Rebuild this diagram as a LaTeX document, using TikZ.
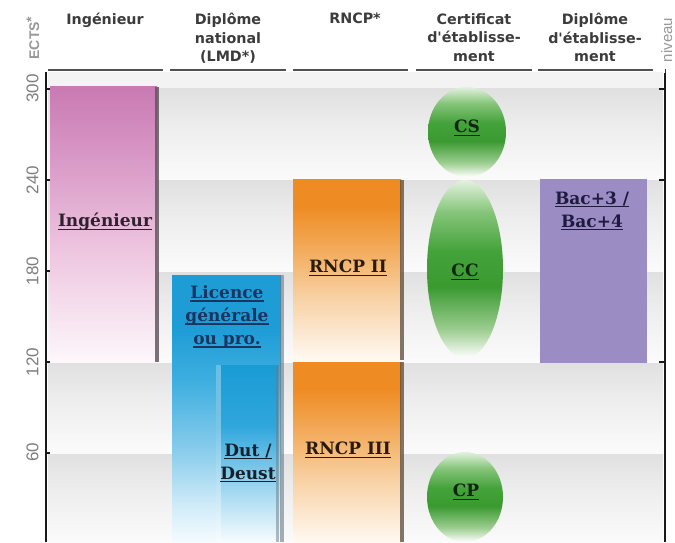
\documentclass[tikz,border=0pt]{standalone}
\usepackage{fontspec}
\setmainfont{DejaVu Serif}
\newfontfamily\hdfont{DejaVu Sans}
\newfontfamily\axfont{Liberation Sans}
\definecolor{hdgray}{HTML}{3C3C3C}
\definecolor{numgray}{HTML}{7E7E7E}
\definecolor{hdline}{HTML}{505050}
\definecolor{topband}{HTML}{F3F3F3}
\definecolor{bandhi}{HTML}{E0E0E0}
\definecolor{bandmid}{HTML}{EDEDED}
\definecolor{bandlo}{HTML}{FBFBFB}
\definecolor{pk0}{HTML}{FDF7FB}
\definecolor{pk1}{HTML}{EEC6E0}
\definecolor{pk2}{HTML}{D899C6}
\definecolor{pk3}{HTML}{C97AB3}
\definecolor{bl0}{HTML}{F5FBFE}
\definecolor{bl1}{HTML}{CFEBF8}
\definecolor{bl2}{HTML}{8ACDEC}
\definecolor{bl3}{HTML}{3FAFE0}
\definecolor{bl4}{HTML}{1E9CD6}
\definecolor{du0}{HTML}{F7FCFE}
\definecolor{du1}{HTML}{A0D7F0}
\definecolor{du2}{HTML}{2FA6DC}
\definecolor{du3}{HTML}{1A9BD5}
\definecolor{or0}{HTML}{FFF9F2}
\definecolor{or1}{HTML}{F8D2A6}
\definecolor{or2}{HTML}{F2A550}
\definecolor{or3}{HTML}{EE8B22}
\definecolor{gr0}{HTML}{FFFFFF}
\definecolor{gr1}{HTML}{9CCD90}
\definecolor{gr2}{HTML}{3A9A30}
\definecolor{gr3}{HTML}{44A23A}
\definecolor{gr4}{HTML}{86C57A}
\definecolor{gr5}{HTML}{E3F2DE}
\definecolor{purp}{HTML}{9B8CC4}
\definecolor{ingtxt}{HTML}{2E2230}
\definecolor{lictxt}{HTML}{1B3560}
\definecolor{duttxt}{HTML}{15202A}
\definecolor{rncptxt}{HTML}{2A1A0A}
\definecolor{greentxt}{HTML}{0E260E}
\definecolor{bactxt}{HTML}{1E1A40}
\definecolor{shadowpk}{HTML}{5A5058}
\definecolor{shadowbl}{HTML}{6A7A84}
\definecolor{shadowor}{HTML}{5A4A3A}
\pgfdeclareverticalshading{bandsh}{100bp}{color(0bp)=(bandlo); color(25bp)=(bandlo); color(55bp)=(bandmid); color(75bp)=(bandhi); color(100bp)=(bandhi)}
\pgfdeclareverticalshading{pinksh}{100bp}{color(0bp)=(pk0); color(25bp)=(pk0); color(45bp)=(pk1); color(62bp)=(pk2); color(75bp)=(pk3); color(100bp)=(pk3)}
\pgfdeclareverticalshading{licsh}{100bp}{color(0bp)=(bl0); color(25bp)=(bl0); color(32bp)=(bl1); color(42bp)=(bl2); color(55bp)=(bl3); color(65bp)=(bl4); color(100bp)=(bl4)}
\pgfdeclareverticalshading{dutsh}{100bp}{color(0bp)=(du0); color(25bp)=(du0); color(40bp)=(du1); color(58bp)=(du2); color(75bp)=(du3); color(100bp)=(du3)}
\pgfdeclareverticalshading{orsh}{100bp}{color(0bp)=(or0); color(25bp)=(or0); color(42bp)=(or1); color(58bp)=(or2); color(68bp)=(or3); color(100bp)=(or3)}
\pgfdeclareverticalshading{grsh}{100bp}{color(0bp)=(gr0); color(25bp)=(gr0); color(33bp)=(gr1); color(45bp)=(gr2); color(55bp)=(gr3); color(66bp)=(gr4); color(75bp)=(gr5); color(100bp)=(gr5)}
\newcommand\myul[1]{\setbox0\hbox{#1}\rlap{\rule[-3pt]{\wd0}{1.3pt}}\box0}
\begin{document}
\begin{tikzpicture}[x=1pt,y=1pt,
  hd/.style={font=\hdfont\bfseries\fontsize{14.3}{18.5}\selectfont, text=hdgray, align=center, inner sep=0pt, anchor=north},
  lbl/.style={font=\bfseries\fontsize{17}{23}\selectfont, align=center, inner sep=0pt},
  num/.style={font=\axfont\fontsize{17}{17}\selectfont, text=numgray, rotate=90, inner sep=0pt},
  hdrule/.style={draw=hdline, line width=1.4pt},
  axisline/.style={draw=black!90, line width=2pt},
  tickline/.style={draw=black!90, line width=1.5pt}]
\useasboundingbox (0,0) rectangle (675,542);
\fill[white] (0,0) rectangle (675,542);
% background bands
\fill[topband] (48,453) rectangle (663,470);
\foreach \lo/\hi in {0/89,89/180,180/271,271/362,362/453}
  \shade[shading=bandsh] (48,\lo) rectangle (663,\hi);
% header rules
\foreach \a/\b in {48/163,170/286,293/408,416/532,538/653}
  \draw[hdrule] (\a,472) -- (\b,472);
% headers
\node[hd] (hIng) at (105,529) {Ingénieur};
\node[hd] (hDN) at (228,529) {Diplôme\\national\\(LMD*)};
\node[hd] (hRNCP) at (355,529) {RNCP*};
\node[hd] (hCert) at (474,529) {Certificat\\d'établisse-\\ment};
\node[hd] (hDE) at (595,529) {Diplôme\\d'établisse-\\ment};
% axes
\draw[axisline] (46,0) -- (46,470);
\foreach \yy in {89,180,271,362,453} \draw[tickline] (46,\yy) -- (50,\yy);
\draw[axisline] (665,0) -- (665,469);
\draw[draw=black!80, line width=0.8pt] (665,469) -- (665,473);
\foreach \yy in {180,362,453} \draw[tickline] (665,\yy) -- (659,\yy);
\node[num] (n300) at (32.5,453.5) {300};
\node[num] (n240) at (32.5,362) {240};
\node[num] (n180) at (32.5,271) {180};
\node[num] (n120) at (32.5,180) {120};
\node[num] (n60) at (32.5,90) {60};
\node[font=\axfont\bfseries\fontsize{14}{14}\selectfont, text=numgray!80, rotate=90, inner sep=0pt] (ects) at (33,504) {ECTS\raisebox{3pt}{*}};
\node[font=\axfont\fontsize{15}{15}\selectfont, text=numgray!80, rotate=90, inner sep=0pt, anchor=base] (niv) at (672,502) {niveau};
% Ingenieur bar
\shade[shading=pinksh] (50,180) rectangle (157,455);
\fill[shadowpk, opacity=.8] (155,180) rectangle (159,455);
\node[lbl, text=ingtxt] (ing) at (105,320) {\myul{Ingénieur}};
% Licence bar
\shade[shading=licsh] (172,0) rectangle (281,267);
\fill[shadowbl, opacity=.6] (280,0) rectangle (284,267);
\node[lbl, text=lictxt] (lic) at (227,225) {\myul{Licence}\\\myul{générale}\\\myul{ou pro.}};
% Dut bar
\shade[shading=dutsh] (216,0) rectangle (278,177);
\fill[white, opacity=.35] (216,0) rectangle (221,177);
\fill[shadowbl, opacity=.5] (276,0) rectangle (279,177);
\node[lbl, text=duttxt] (dut) at (248,79) {\myul{Dut /}\\\myul{Deust}};
% RNCP bars
\shade[shading=orsh] (293,182) rectangle (401,362);
\fill[shadowor, opacity=.75] (400,182) rectangle (404,362);
\node[lbl, text=rncptxt] (r2) at (348,274) {\myul{RNCP II}};
\shade[shading=orsh] (293,0) rectangle (401,180);
\fill[shadowor, opacity=.75] (400,0) rectangle (404,180);
\node[lbl, text=rncptxt] (r3) at (348,92) {\myul{RNCP III}};
% green ellipses
\shade[shading=grsh] (467,410) ellipse [x radius=39, y radius=45];
\node[lbl, text=greentxt] (cs) at (467,414) {\myul{CS}};
\shade[shading=grsh] (465,273) ellipse [x radius=38, y radius=89];
\node[lbl, text=greentxt] (cc) at (465,270) {\myul{CC}};
\shade[shading=grsh] (465,45) ellipse [x radius=38, y radius=45];
\node[lbl, text=greentxt] (cp) at (466,50) {\myul{CP}};
% Bac box
\fill[purp] (540,179) rectangle (647,363);
\node[lbl, text=bactxt] (bac) at (592,331) {\myul{Bac+3 /}\\\myul{Bac+4}};
\end{tikzpicture}
\end{document}
